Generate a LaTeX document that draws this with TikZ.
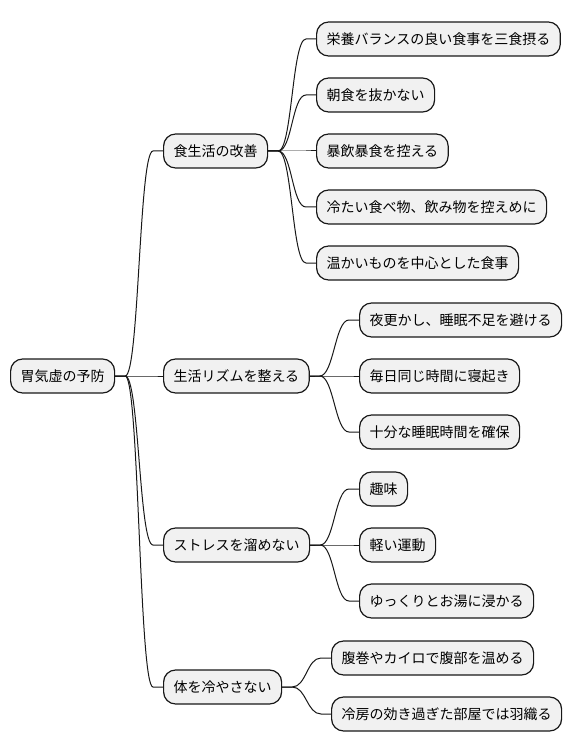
\documentclass[tikz,border=0pt]{standalone}
\usepackage{fontspec}
\setmainfont{Noto Sans CJK JP}
\usetikzlibrary{calc}
\definecolor{boxfill}{HTML}{F1F1F1}
\definecolor{boxline}{HTML}{181818}
\tikzset{
  mm/.style={draw=boxline, fill=boxfill, line width=0.9pt, rounded corners=9pt,
    anchor=west, inner xsep=7.5pt, inner ysep=0pt, minimum height=25.5pt,
    font=\fontsize{10.5pt}{12pt}\selectfont, text=black},
  edge/.style={draw=boxline, line width=0.75pt},
}
\newcommand\mmlink[2]{\draw[edge] (#1.east) -- ++(10,0) .. controls +(14,0) and +(-14,0) .. ($(#2.west)+(-7.5pt,0)$) -- (#2.west);}
\begin{document}
\begin{tikzpicture}[x=0.75pt,y=-0.75pt]
\useasboundingbox (0,0) rectangle (572,752);
\node[mm] (root) at (10,376) {胃気虚の予防};
\node[mm] (a) at (163,151) {食生活の改善};
\node[mm] (b) at (163,376) {生活リズムを整える};
\node[mm] (c) at (163,545) {ストレスを溜めない};
\node[mm] (d) at (163,687) {体を冷やさない};
\node[mm] (a1) at (316,39) {栄養バランスの良い食事を三食摂る};
\node[mm] (a2) at (316,95) {朝食を抜かない};
\node[mm] (a3) at (316,151) {暴飲暴食を控える};
\node[mm] (a4) at (316,207) {冷たい食べ物、飲み物を控えめに};
\node[mm] (a5) at (316,263) {温かいものを中心とした食事};
\node[mm] (b1) at (359,320) {夜更かし、睡眠不足を避ける};
\node[mm] (b2) at (359,376) {毎日同じ時間に寝起き};
\node[mm] (b3) at (359,432) {十分な睡眠時間を確保};
\node[mm] (c1) at (359,489) {趣味};
\node[mm] (c2) at (359,545) {軽い運動};
\node[mm] (c3) at (359,601) {ゆっくりとお湯に浸かる};
\node[mm] (d1) at (331,658) {腹巻やカイロで腹部を温める};
\node[mm] (d2) at (331,714) {冷房の効き過ぎた部屋では羽織る};
\mmlink{root}{a}\mmlink{root}{b}\mmlink{root}{c}\mmlink{root}{d}
\mmlink{a}{a1}\mmlink{a}{a2}\mmlink{a}{a3}\mmlink{a}{a4}\mmlink{a}{a5}
\mmlink{b}{b1}\mmlink{b}{b2}\mmlink{b}{b3}
\mmlink{c}{c1}\mmlink{c}{c2}\mmlink{c}{c3}
\mmlink{d}{d1}\mmlink{d}{d2}
\end{tikzpicture}
\end{document}
